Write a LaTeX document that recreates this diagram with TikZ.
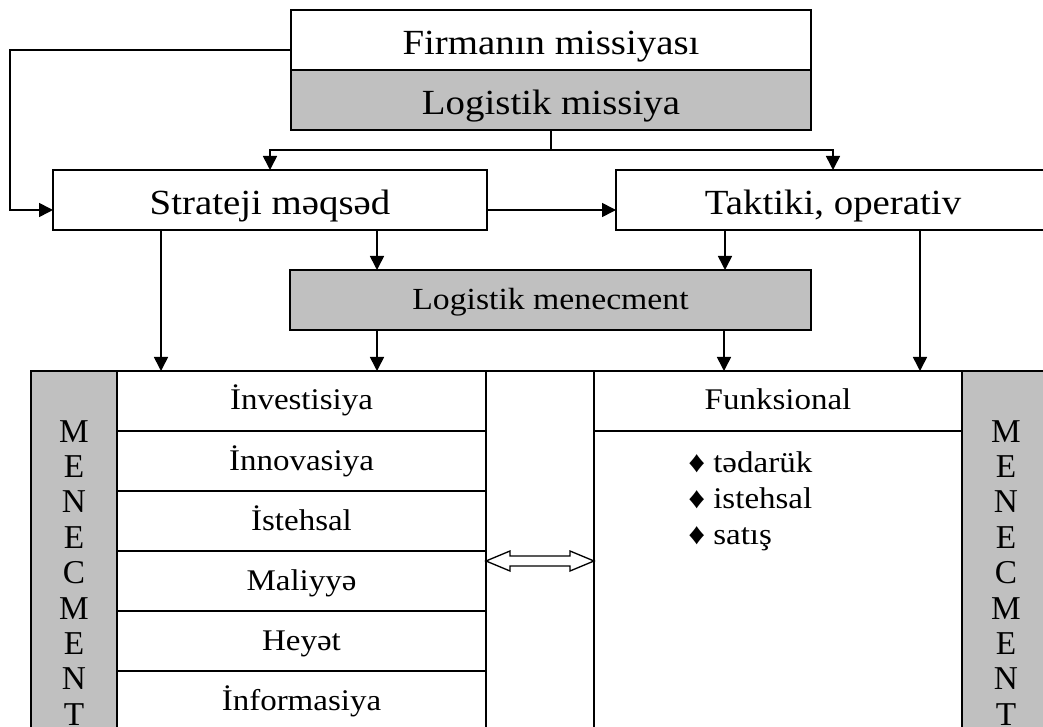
\documentclass[tikz,border=0pt]{standalone}
\usepackage{fontspec}
\setmainfont[FakeStretch=1.1]{Liberation Serif}
\newfontfamily\plainserif{Liberation Serif}
\usetikzlibrary{arrows.meta,calc}
\definecolor{boxgray}{RGB}{192,192,192}
\begin{document}
\begin{tikzpicture}[x=0.75pt,y=-0.75pt,
  box/.style={draw,line width=1.2pt,rectangle,inner sep=0pt,outer sep=0pt,fill=white},
  gbox/.style={box,fill=boxgray},
  bigtxt/.style={font=\fontsize{26.5}{30}\selectfont,text height=22.5pt,text depth=0pt},
  medtxt/.style={font=\fontsize{23}{27}\selectfont,text height=15pt,text depth=0pt},
  rowtxt/.style={font=\fontsize{22.5}{27}\selectfont,text height=13.5pt,text depth=0pt},
  bultxt/.style={font=\fontsize{22.5}{27}\selectfont,inner sep=0pt,anchor=base west},
  lettxt/.style={font=\plainserif\fontsize{25}{25}\selectfont,inner sep=0pt,anchor=base},
  ln/.style={line width=1.2pt},
  arr/.style={line width=1.2pt,-{Triangle[width=10.5pt,length=10.5pt]}}]
\useasboundingbox (0,0) rectangle (1043,727);
\clip (0,0) rectangle (1043,727);

% top boxes
\node[box,bigtxt,minimum width=390pt,minimum height=45pt] (firm) at (551,40) {Firmanın missiyası};
\node[gbox,bigtxt,minimum width=390pt,minimum height=45pt] (miss) at (551,100) {Logistik missiya};
\node[box,bigtxt,minimum width=325.5pt,minimum height=45pt] (strat) at (270,200) {Strateji məqsəd};
\node[box,bigtxt,minimum width=325.5pt,minimum height=45pt] (takt) at (833,200) {Taktiki, operativ};
\node[gbox,medtxt,minimum width=390.75pt,minimum height=45pt] (logm) at (550.5,300) {Logistik menecment};

% bottom structure
\node[box,minimum width=81pt,minimum height=276.75pt] (gap) at (540,555.5) {};
\node[gbox,minimum width=64.5pt,minimum height=276.75pt] (lstrip) at (74,555.5) {};
\node[box,rowtxt,minimum width=276.75pt,minimum height=45pt] (inv) at (301.5,401) {İnvestisiya};
\node[box,rowtxt,minimum width=276.75pt,minimum height=45pt] (inn) at (301.5,461) {İnnovasiya};
\node[box,rowtxt,minimum width=276.75pt,minimum height=45pt] (ist) at (301.5,521) {İstehsal};
\node[box,rowtxt,minimum width=276.75pt,minimum height=45pt] (mal) at (301.5,581) {Maliyyə};
\node[box,rowtxt,minimum width=276.75pt,minimum height=45pt] (hey) at (301.5,641) {Heyət};
\node[box,rowtxt,minimum width=276.75pt,minimum height=45pt] (inf) at (301.5,701) {İnformasiya};
\node[box,minimum width=276pt,minimum height=231.75pt] (fbody) at (778,585.5) {};
\node[box,rowtxt,minimum width=276pt,minimum height=45pt] (func) at (778,401) {Funksional};
\node[gbox,minimum width=64.5pt,minimum height=276.75pt] (rstrip) at (1005,555.5) {};

\foreach \l [count=\i from 0] in {M,E,N,E,C,M,E,N,T} {
  \node[lettxt] (lm\i) at (74,{442+35.4*\i}) {\l};
  \node[lettxt] (rm\i) at (1006,{442+35.4*\i}) {\l};
}

\node[bultxt] (b1) at (688,472) {♦ tədarük};
\node[bultxt] (b2) at (688,508) {♦ istehsal};
\node[bultxt] (b3) at (688,544) {♦ satış};

% double arrow
\draw[line width=1pt,fill=white] (486,561) -- (510,551) -- (510,556) -- (570,556) -- (570,551) -- (594,561)
  -- (570,571) -- (570,566) -- (510,566) -- (510,571) -- cycle;

% connectors
\coordinate (lp) at (10,130);
\draw[arr] ([yshift=-7.5pt]firm.west) -| (lp) |- ([yshift=-7.5pt]strat.west);
\coordinate (hub) at (551,150);
\draw[ln] (miss.south) -- (hub);
\draw[arr] (hub) -| (strat.north);
\draw[arr] (hub) -| (takt.north);
\draw[arr] ([yshift=-7.5pt]strat.east) -- ([yshift=-7.5pt]takt.west);

\coordinate (s1) at ($(strat.south)+(-109,0)$);
\coordinate (s2) at ($(strat.south)+(107,0)$);
\coordinate (t1) at ($(takt.south)+(-108,0)$);
\coordinate (t2) at ($(takt.south)+(87,0)$);
\coordinate (m1) at ($(logm.south)+(-173.5,0)$);
\coordinate (m2) at ($(logm.south)+(173.5,0)$);
\draw[arr] (s1) -- (s1 |- inv.north);
\draw[arr] (s2) -- (s2 |- logm.north);
\draw[arr] (t1) -- (t1 |- logm.north);
\draw[arr] (t2) -- (t2 |- func.north);
\draw[arr] (m1) -- (m1 |- inv.north);
\draw[arr] (m2) -- (m2 |- func.north);
\end{tikzpicture}
\end{document}
